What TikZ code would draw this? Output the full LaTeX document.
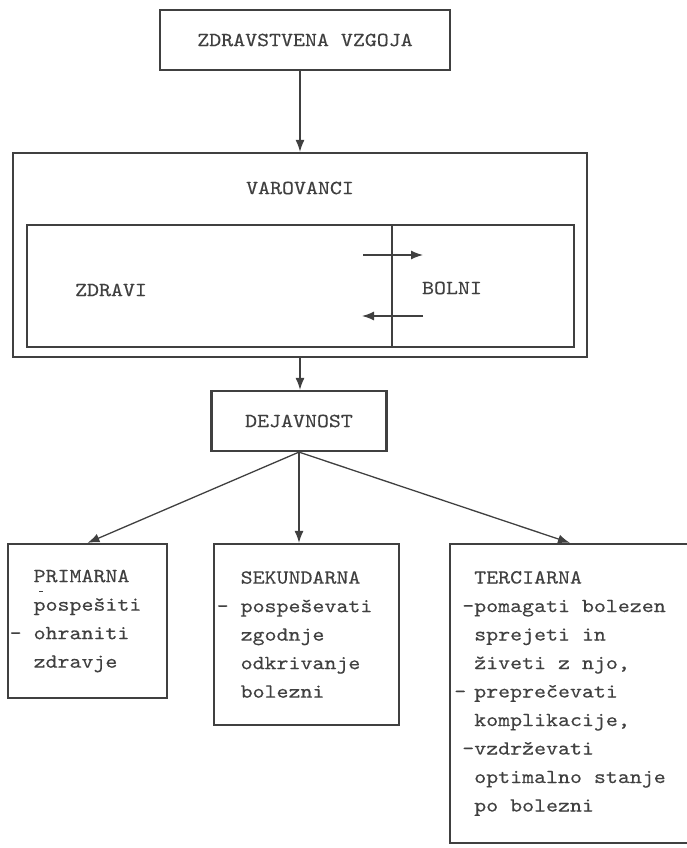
\documentclass[tikz,border=0pt]{standalone}
\usepackage{fontspec}
\usepackage[svgnames]{xcolor}
\usetikzlibrary{arrows.meta}
\newfontfamily\typer{lmmono10-regular}[Extension=.otf,FakeStretch=1.14,FakeBold=0.3]
\colorlet{ink}{black!75}

\begin{document}
\begin{tikzpicture}[
  x=1pt, y=-1pt,
  every node/.style={font=\typer\fontsize{20}{28.5}\selectfont, text=ink},
  frame/.style={draw=ink, line width=2.2pt, inner sep=0pt},
  thinframe/.style={draw=ink, line width=1.8pt, inner sep=0pt},
  link/.style={draw=ink, line width=1.3pt, -{Latex[length=12pt,width=9pt]}}
]
\useasboundingbox (0,0) rectangle (686,848);

\node[frame, minimum width=290pt, minimum height=60pt] (zv) at (305,40) {ZDRAVSTVENA VZGOJA};
\node[frame, minimum width=574pt, minimum height=204pt] (var) at (300,255) {};
\node (varlab) at (300,188) {VAROVANCI};
\node[thinframe, minimum width=547pt, minimum height=122pt] (inner) at (300.5,286) {};
\node (zdr) at (111,290) {ZDRAVI};
\node (bol) at (452,288) {BOLNI};
\draw[ink, line width=1.6pt] ([xshift=91.5pt]inner.north) -- ([xshift=91.5pt]inner.south);
\coordinate (goA) at (363,255);
\coordinate (goB) at (423,255);
\coordinate (backA) at (423,316);
\coordinate (backB) at (362,316);
\draw[link] (goA) -- (goB);
\draw[link] (backA) -- (backB);

\node[frame, minimum width=175pt, minimum height=60pt] (dej) at (299,421) {DEJAVNOST};

\node[frame, minimum width=159pt, minimum height=154pt, align=left] (prim) at (87.5,621)
  {PRIMARNA\\pospešiti\\\llap{- }ohraniti\\zdravje};
\node[frame, minimum width=185pt, minimum height=181pt, align=left] (sek) at (306.5,634.5)
  {SEKUNDARNA\\\llap{- }pospeševati\\zgodnje\\odkrivanje\\bolezni};
\node[frame, minimum width=240pt, minimum height=299pt, align=left] (terc) at (570,693.5)
  {TERCIARNA\\\llap{-}pomagati bolezen\\sprejeti in\\živeti z njo,\\\llap{-\hspace{8pt}}preprečevati\\komplikacije,\\\llap{-}vzdrževati\\optimalno stanje\\po bolezni};
\draw[ink, line width=0.8pt] (39,591) -- (43,591);

\draw[link] (zv.south -| var.north) -- (var.north);
\draw[link] (var.south) -- (var.south |- dej.north);
\foreach \b in {prim,terc}
  \draw[link] (dej.south) -- (\b.north);
\draw[link] (dej.south) -- (dej.south |- sek.north);
\end{tikzpicture}
\end{document}
